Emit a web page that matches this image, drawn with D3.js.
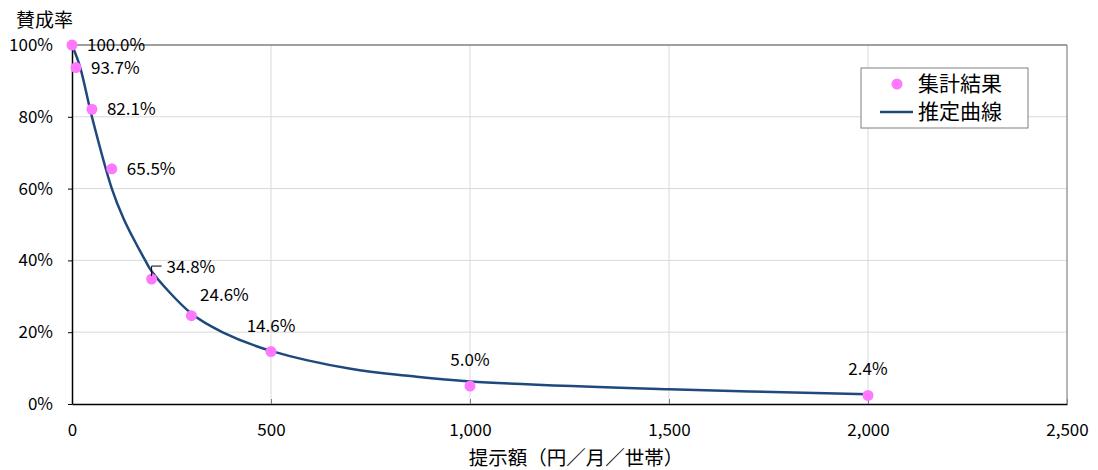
<!DOCTYPE html>
<html>
<head>
  <meta charset="utf-8">
  <title>賛成率</title>
  <script src="https://d3js.org/d3.v7.min.js"></script>
  <style>
    body { margin: 0; background: #fff; }
    text { font-family: "Noto Sans CJK JP", sans-serif; fill: #000; }
    .axis text { font-size: 17px; }
    .axis path { stroke: #000; stroke-width: 1.5; }
    .grid line { stroke: #d9d9d9; stroke-width: 1; }
    .lbl { font-size: 17px; }
  </style>
</head>
<body>
  <svg width="1098" height="470"></svg>
  <script>
    // 集計結果
    var amounts = [0, 10, 50, 100, 200, 300, 500, 1000, 2000];
    var rates   = [1.000, 0.937, 0.821, 0.655, 0.348, 0.246, 0.146, 0.050, 0.024];
    // 推定曲線
    var curveX = [0, 20, 50, 100, 130, 150, 184, 200, 300, 380, 500, 700, 850, 1000, 1500, 2000];
    var curveY = [1.00, 0.94, 0.80, 0.60, 0.515, 0.47, 0.40, 0.37, 0.252, 0.199, 0.148, 0.098, 0.078, 0.063, 0.041, 0.027];
    var xTicks = [0, 500, 1000, 1500, 2000, 2500];
    var yTicks = [0, 0.2, 0.4, 0.6, 0.8, 1.0];
    var legendNames = ["集計結果", "推定曲線"];

    var svg = d3.select("svg");
    var margin = { left: 72, top: 45, right: 31, bottom: 66 };
    var plot = { width: 1098 - margin.left - margin.right, height: 470 - margin.top - margin.bottom };
    var g = svg.append("g").attr("transform", translate(margin.left, margin.top));

    var x = d3.scaleLinear().domain([0, 2500]).range([0, plot.width]);
    var y = d3.scaleLinear().domain([0, 1]).range([plot.height, 0]);

    // grid
    var grid = g.append("g").attr("class", "grid");
    grid.selectAll(".v").data(xTicks.slice(1)).enter().append("line")
      .attr("x1", function(d) { return x(d); }).attr("x2", function(d) { return x(d); })
      .attr("y1", 0).attr("y2", plot.height);
    grid.selectAll(".h").data(yTicks.slice(1, -1)).enter().append("line")
      .attr("x1", 0).attr("x2", plot.width)
      .attr("y1", function(d) { return y(d); }).attr("y2", function(d) { return y(d); });
    // top & right border
    g.append("line").attr("x1", 0).attr("x2", plot.width).attr("y1", 0).attr("y2", 0)
      .attr("stroke", "#7f7f7f").attr("stroke-width", 1.5);
    g.append("line").attr("x1", plot.width).attr("x2", plot.width).attr("y1", 0).attr("y2", plot.height)
      .attr("stroke", "#7f7f7f").attr("stroke-width", 1);

    // axes
    var xAxis = d3.axisBottom(x).tickValues(xTicks).tickFormat(d3.format(",")).tickSizeInner(-5).tickSizeOuter(0);
    var gx = g.append("g").attr("class", "axis").attr("transform", translate(0, plot.height)).call(xAxis);
    gx.selectAll(".tick line").attr("stroke", "#7f7f7f");
    gx.selectAll(".tick text").attr("dy", "0.35em").attr("y", 26);

    var yAxis = d3.axisLeft(y).tickValues(yTicks).tickFormat(d3.format(".0%")).tickSizeInner(4).tickSizeOuter(0).tickPadding(15);
    var gy = g.append("g").attr("class", "axis").call(yAxis);
    gy.selectAll(".tick line").attr("stroke", "#000");

    // curve
    var line = d3.line()
      .x(function(d, i) { return x(curveX[i]); })
      .y(function(d) { return y(d); })
      .curve(d3.curveCatmullRom.alpha(0.5));
    g.append("path").datum(curveY).attr("d", line)
      .attr("fill", "none").attr("stroke", "#1f497d").attr("stroke-width", 2.5);

    // points
    g.selectAll(".pt").data(rates).enter().append("circle")
      .attr("cx", function(d, i) { return x(amounts[i]); })
      .attr("cy", function(d) { return y(d); })
      .attr("r", 5.5).attr("fill", "#ff79ff");

    // data labels
    var fmt = d3.format(".1%");
    g.selectAll(".lbl").data(rates).enter().append("text")
      .attr("class", "lbl")
      .attr("x", function(d, i) {
        if (i <= 4) return x(amounts[i]) + 15;
        if (i === 5) return x(amounts[i]) + 33;
        return x(amounts[i]);
      })
      .attr("y", function(d, i) {
        if (i < 4) return y(d);
        if (i === 4) return y(d) - 12;
        if (i === 5) return y(d) - 21;
        return y(d) - 26;
      })
      .attr("dy", "0.35em")
      .attr("text-anchor", function(d, i) { return i <= 4 ? "start" : "middle"; })
      .text(function(d) { return fmt(d); });
    // leader line for 34.8%
    var lx = x(amounts[4]), ly = y(rates[4]);
    g.append("path")
      .attr("d", "M" + lx + "," + (ly - 3) + "V" + (ly - 13) + "H" + (lx + 10))
      .attr("fill", "none").attr("stroke", "#000").attr("stroke-width", 1);

    // titles
    svg.append("text").attr("x", 16).attr("y", 20).attr("dy", "0.35em")
      .style("font-size", "19px").text("賛成率");
    svg.append("text").attr("x", 576).attr("y", 458).attr("dy", "0.35em")
      .attr("text-anchor", "middle").style("font-size", "19.5px").text("提示額（円／月／世帯）");

    // legend
    var lg = svg.append("g").attr("transform", translate(861, 68));
    lg.append("rect").attr("width", 167).attr("height", 60)
      .attr("fill", "#fff").attr("stroke", "#7f7f7f").attr("stroke-width", 1);
    lg.append("circle").attr("cx", 36).attr("cy", 16).attr("r", 5.5).attr("fill", "#ff79ff");
    lg.append("line").attr("x1", 19).attr("x2", 52).attr("y1", 44).attr("y2", 44)
      .attr("stroke", "#1f497d").attr("stroke-width", 2.5);
    lg.selectAll(".lt").data(legendNames).enter().append("text")
      .attr("x", 57).attr("y", function(d, i) { return 16 + i * 28; })
      .attr("dy", "0.35em").style("font-size", "21px")
      .text(function(d) { return d; });

    function translate(a, b) {
      return "translate(" + a + "," + b + ")";
    }
  </script>
</body>
</html>
